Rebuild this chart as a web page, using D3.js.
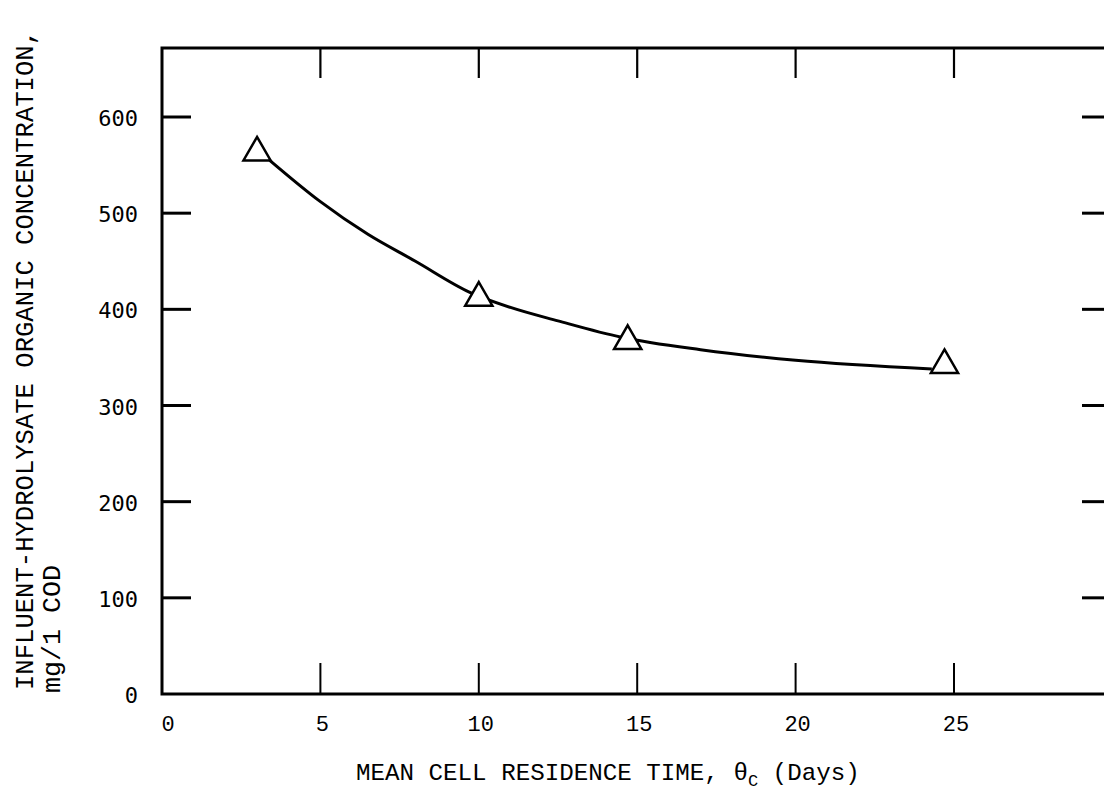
<!DOCTYPE html>
<html>
<head>
<meta charset="utf-8">
<script src="https://cdn.jsdelivr.net/npm/d3@7"></script>
<style>
  body { margin: 0; background: #fff; }
  svg { display: block; }
</style>
</head>
<body>
<div id="chart"></div>
<script>
// measured points (triangles)
const days = [3, 10, 14.7, 24.7];
const cod = [563, 412, 367, 342];

// hand-drawn fitted curve
const curveDays = [3.4, 5, 6.5, 8, 9.7, 11, 12.5, 14.5, 17, 20, 24.3];
const curveCOD = [555, 512, 478, 450, 418, 402, 388, 371, 358, 347, 338];

const xTicks = [0, 5, 10, 15, 20, 25];
const yTicks = [0, 100, 200, 300, 400, 500, 600];

(function(){
  const width = 1104, height = 796;
  const frameLeft = 162, frameTop = 48, frameBottom = 694, frameRight = 1110;

  const svg = d3.select("#chart").append("svg")
    .attr("width", width)
    .attr("height", height);

  const x = d3.scaleLinear().domain([0, 25]).range([162, 954]);
  const y = d3.scaleLinear().domain([0, 600]).range([frameBottom, 117]);

  // frame
  svg.append("rect")
    .attr("x", frameLeft).attr("y", frameTop)
    .attr("width", frameRight - frameLeft).attr("height", frameBottom - frameTop)
    .attr("fill", "none")
    .attr("stroke", "#000")
    .attr("stroke-width", 3);

  // x ticks, bottom and top
  const xt = xTicks.filter(d => d > 0);
  svg.append("g").selectAll("line")
    .data(xt).enter().append("line")
    .attr("x1", d => x(d)).attr("x2", d => x(d))
    .attr("y1", frameBottom).attr("y2", frameBottom - 31)
    .attr("stroke", "#000").attr("stroke-width", 2);
  svg.append("g").selectAll("line")
    .data(xt).enter().append("line")
    .attr("x1", d => x(d)).attr("x2", d => x(d))
    .attr("y1", frameTop).attr("y2", frameTop + 30)
    .attr("stroke", "#000").attr("stroke-width", 2.2);

  // y ticks, left and right
  const yt = yTicks.filter(d => d > 0);
  svg.append("g").selectAll("line")
    .data(yt).enter().append("line")
    .attr("x1", frameLeft).attr("x2", frameLeft + 29)
    .attr("y1", d => y(d)).attr("y2", d => y(d))
    .attr("stroke", "#000").attr("stroke-width", 3);
  svg.append("g").selectAll("line")
    .data(yt).enter().append("line")
    .attr("x1", 1082).attr("x2", frameRight)
    .attr("y1", d => y(d)).attr("y2", d => y(d))
    .attr("stroke", "#000").attr("stroke-width", 3);

  // tick labels
  svg.append("g").selectAll("text")
    .data(yTicks).enter().append("text")
    .attr("x", 138)
    .attr("y", d => y(d) + 3)
    .attr("text-anchor", "end")
    .attr("dominant-baseline", "middle")
    .style("font-family", "'DejaVu Sans Mono', monospace")
    .style("font-size", "22px")
    .text(d => d);

  svg.append("g").selectAll("text")
    .data(xTicks).enter().append("text")
    .attr("x", d => x(d) + (d === 0 ? 6 : 2))
    .attr("y", 731)
    .attr("text-anchor", "middle")
    .style("font-family", "'Liberation Mono', monospace")
    .style("font-size", "22px")
    .text(d => d);

  // axis titles
  const xTitle = svg.append("text")
    .attr("x", 356).attr("y", 780)
    .style("font-family", "'Liberation Mono', monospace")
    .style("font-size", "24.2px");
  xTitle.append("tspan").text("MEAN CELL RESIDENCE TIME, \u03B8");
  xTitle.append("tspan").attr("dy", 6).style("font-size", "17px").text("C");
  xTitle.append("tspan").attr("dy", -6).text(" (Days)");

  svg.append("text")
    .attr("transform", "translate(33,690) rotate(-90)")
    .attr("textLength", 660)
    .attr("lengthAdjust", "spacingAndGlyphs")
    .style("font-family", "'Liberation Mono', monospace")
    .style("font-size", "26px")
    .text("INFLUENT-HYDROLYSATE ORGANIC CONCENTRATION,");

  svg.append("text")
    .attr("transform", "translate(60,693) rotate(-90)")
    .attr("textLength", 128)
    .attr("lengthAdjust", "spacingAndGlyphs")
    .style("font-family", "'Liberation Mono', monospace")
    .style("font-size", "25px")
    .text("mg/1 COD");

  // fitted curve
  const curvePts = curveDays.map((d, i) => [d, curveCOD[i]]);
  svg.append("path")
    .datum(curvePts)
    .attr("d", d3.line().x(d => x(d[0])).y(d => y(d[1])).curve(d3.curveMonotoneX))
    .attr("fill", "none")
    .attr("stroke", "#000")
    .attr("stroke-width", 3);

  // triangle markers
  svg.append("g").selectAll("path")
    .data(days.map((d, i) => [d, cod[i]])).enter().append("path")
    .attr("transform", d => `translate(${x(d[0])},${y(d[1])})`)
    .attr("d", d3.symbol().type(d3.symbolTriangle).size(320))
    .attr("fill", "#fff")
    .attr("stroke", "#000")
    .attr("stroke-width", 2.5);
})();
</script>
</body>
</html>
